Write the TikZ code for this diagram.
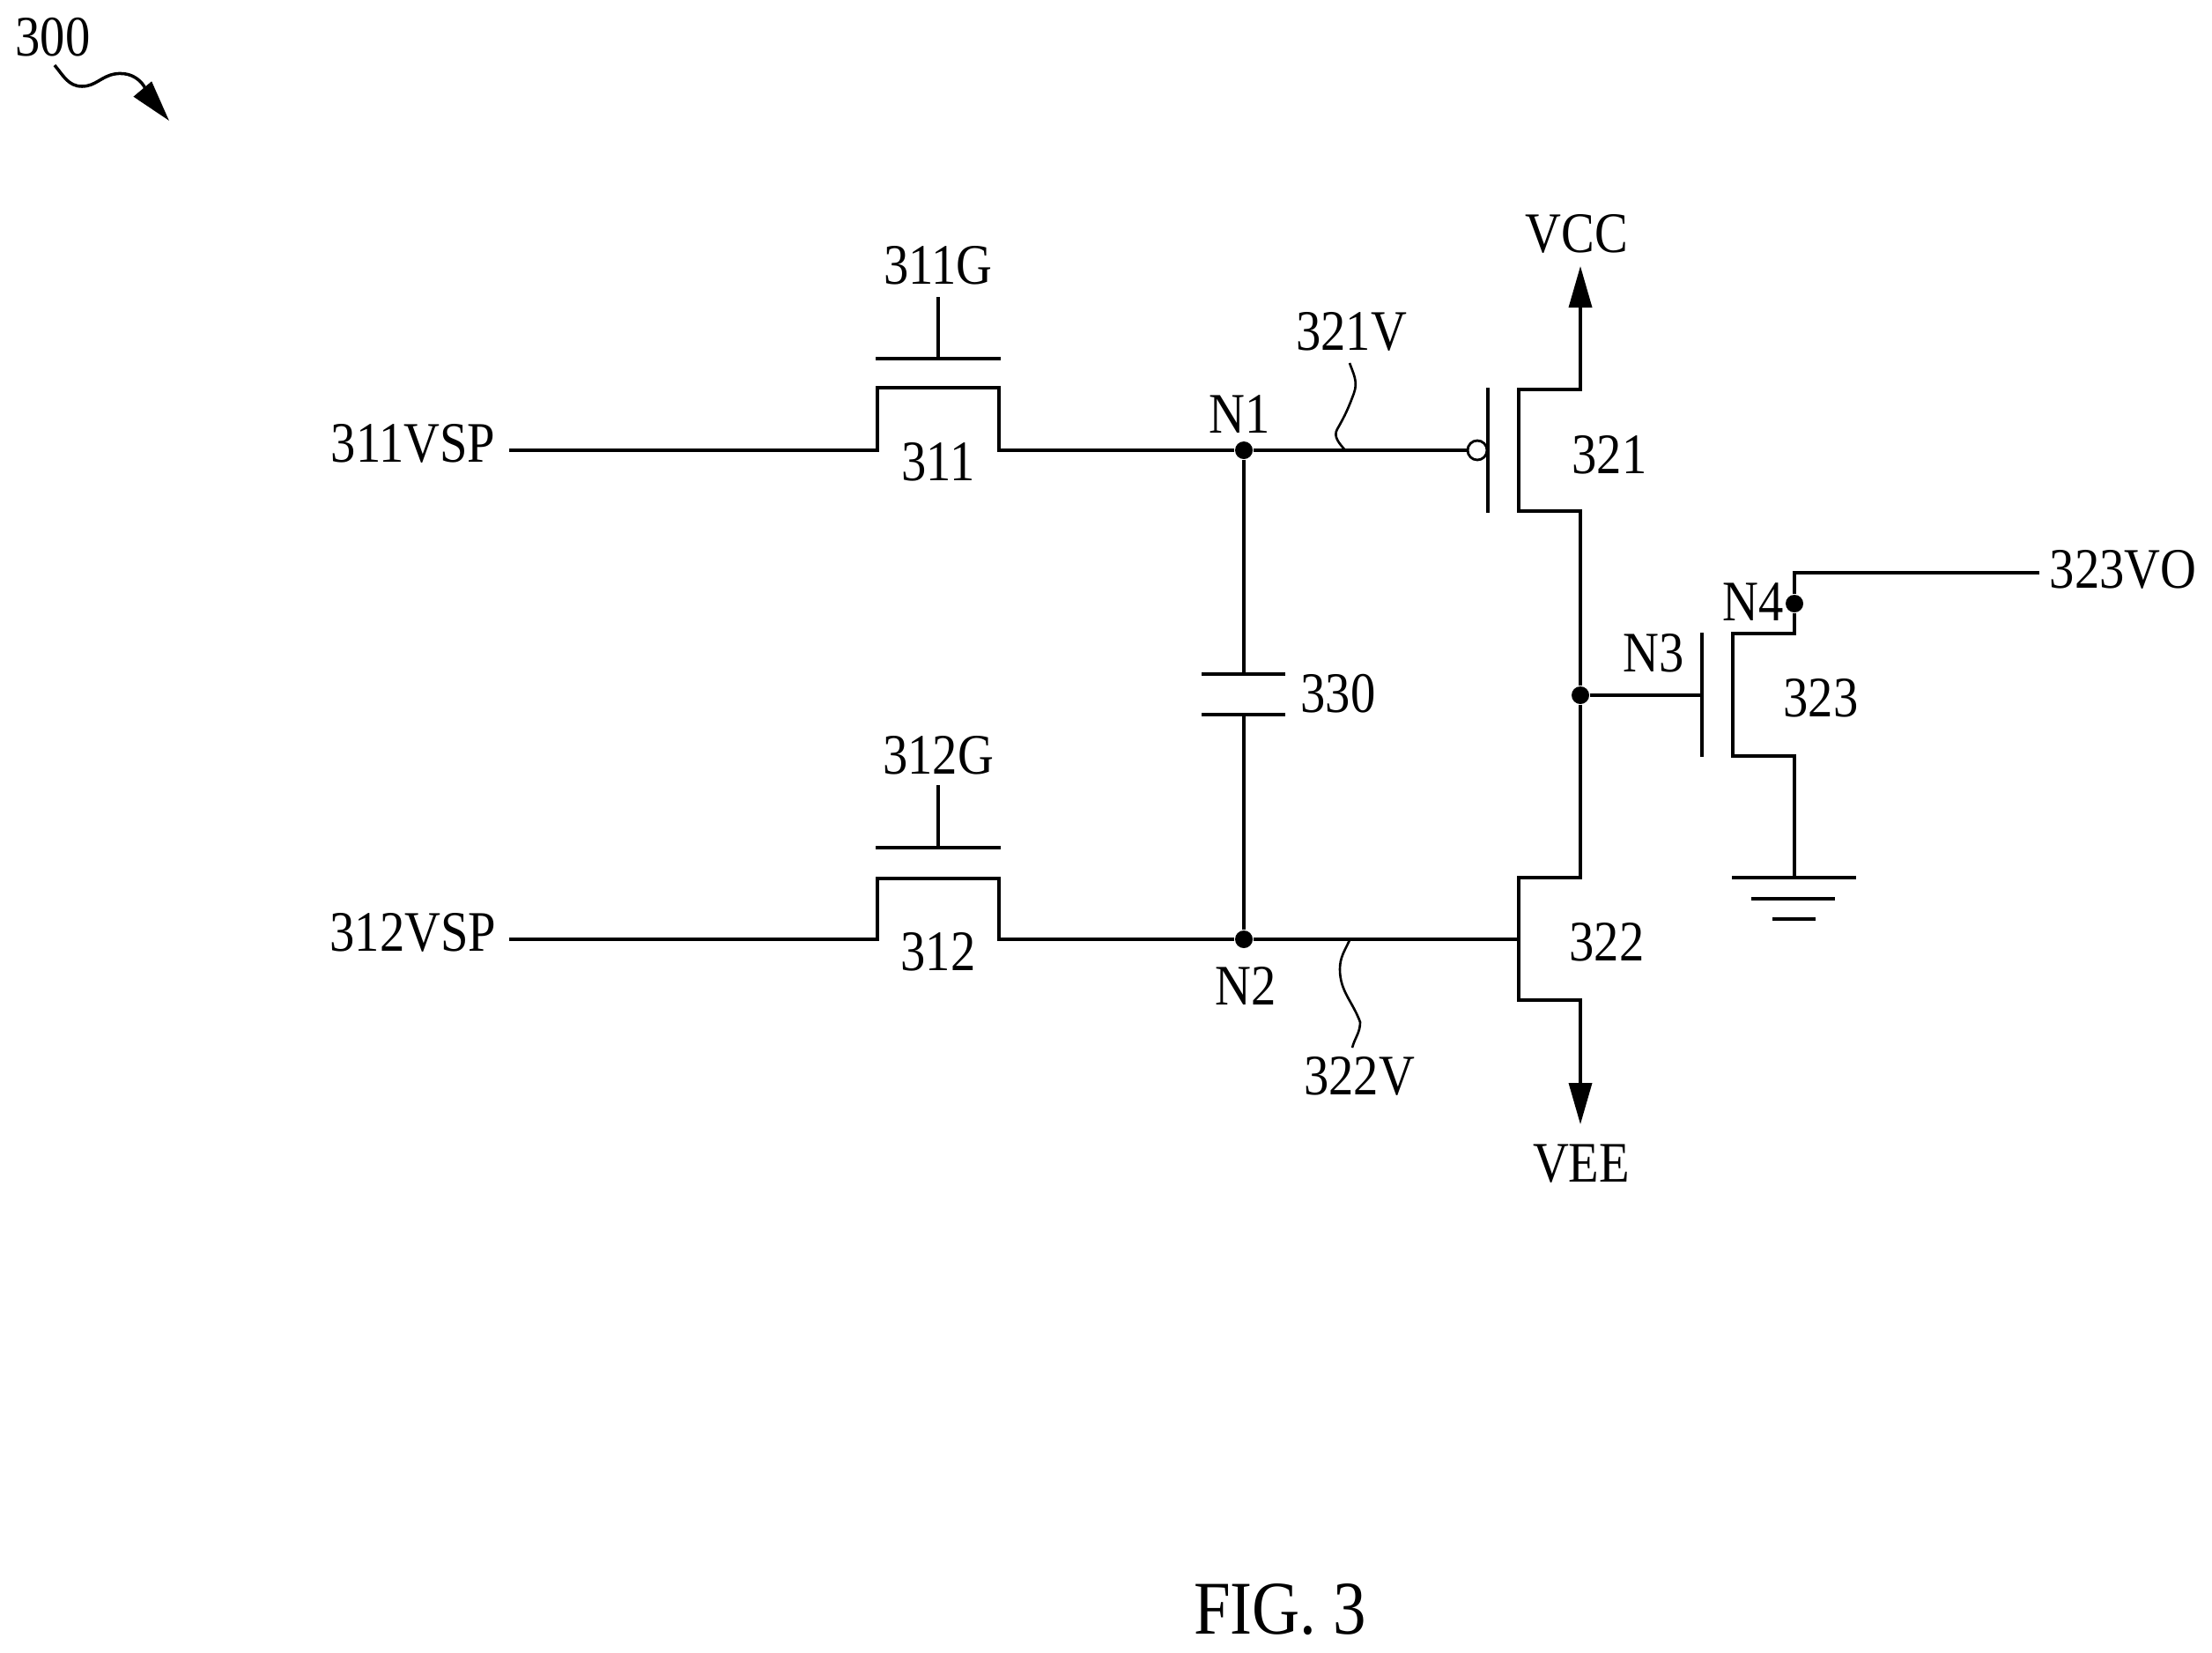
\documentclass[tikz,border=0pt]{standalone}
\usepackage{fontspec}
\setmainfont[FakeStretch=0.87]{Liberation Serif}
\usetikzlibrary{arrows.meta}
\begin{document}
\begin{tikzpicture}
          [font=\fontsize{18.5}{20}\selectfont,
          lbl/.style={inner sep=0pt,text=black},
          figlbl/.style={inner sep=0pt,text=black,font=\fontsize{24.5}{28}\selectfont},
          dot/.style={shape=circle,fill=black,inner sep=0pt,minimum size=0.2cm},
          bubble/.style={shape=circle,draw=black,fill=white,inner sep=0pt,minimum size=0.22cm,line width=0.8pt},
          wire/.style={line width=1pt},
          arc/.style={-{Triangle[length=0.47cm,width=0.26cm]},line width=1pt},
          lead/.style={line width=0.75pt}]

          \useasboundingbox (0,0) rectangle (25.11,-18.75);

          % labels
          \node (l300) [lbl] at (0.60,-0.42) {300};
          \node (l311G) [lbl] at (10.65,-3.01) {311G};
          \node (l312G) [lbl] at (10.65,-8.57) {312G};
          \node (l311VSP) [lbl] at (4.69,-5.03) {311VSP};
          \node (l312VSP) [lbl] at (4.69,-10.58) {312VSP};
          \node (l311) [lbl] at (10.65,-5.24) {311};
          \node (l312) [lbl] at (10.65,-10.80) {312};
          \node (lN1) [lbl] at (14.07,-4.70) {N1};
          \node (lN2) [lbl] at (14.14,-11.19) {N2};
          \node (l321V) [lbl] at (15.34,-3.76) {321V};
          \node (l322V) [lbl] at (15.43,-12.21) {322V};
          \node (l330) [lbl] at (15.19,-7.87) {330};
          \node (lVCC) [lbl] at (17.90,-2.65) {VCC};
          \node (lVEE) [lbl] at (17.95,-13.21) {VEE};
          \node (l321) [lbl] at (18.27,-5.16) {321};
          \node (l322) [lbl] at (18.24,-10.69) {322};
          \node (l323) [lbl] at (20.67,-7.92) {323};
          \node (lN3) [lbl] at (18.77,-7.41) {N3};
          \node (lN4) [lbl] at (19.90,-6.83) {N4};
          \node (l323VO) [lbl] at (24.10,-6.46) {323VO};
          \node (lfig) [figlbl] at (14.53,-18.27) {FIG. 3};

          % nodes
          \node (N1) [dot] at (14.12,-5.11) {};
          \node (N2) [dot] at (14.12,-10.66) {};
          \node (N3) [dot] at (17.94,-7.89) {};
          \node (N4) [dot] at (20.37,-6.85) {};
          \node (b321) [bubble] at (16.77,-5.11) {};

          \coordinate (in311) at (5.78,-5.11);
          \coordinate (in312) at (5.78,-10.66);
          \coordinate (a311) at (9.96,-5.11);
          \coordinate (b311) at (11.34,-5.11);
          \coordinate (a312) at (9.96,-10.66);
          \coordinate (b312) at (11.34,-10.66);
          \coordinate (g311) at (10.65,-4.07);
          \coordinate (g312) at (10.65,-9.62);
          \coordinate (s311) at (10.65,-3.37);
          \coordinate (s312) at (10.65,-8.91);
          \coordinate (c1) at (14.12,-7.65);
          \coordinate (c2) at (14.12,-8.11);
          \coordinate (vcc) at (17.94,-3.02);
          \coordinate (vee) at (17.94,-12.76);
          \coordinate (out) at (23.15,-6.50);
          \coordinate (g323) at (19.32,-7.89);
          \coordinate (gnd) at (20.37,-9.96);

          % pass gates
          \draw [wire] (in311) -- (a311) -- ++(0,0.71) -| (b311) -- (N1);
          \draw [wire] (in312) -- (a312) -- ++(0,0.69) -| (b312) -- (N2);
          \draw [wire] (9.94,-4.07) -- (11.36,-4.07);
          \draw [wire] (9.94,-9.62) -- (11.36,-9.62);
          \draw [wire] (s311) -- (g311);
          \draw [wire] (s312) -- (g312);

          % capacitor
          \draw [wire] (N1) -- (c1);
          \draw [wire] (N2) -- (c2);
          \draw [wire] (13.64,-7.65) -- (14.59,-7.65);
          \draw [wire] (13.64,-8.11) -- (14.59,-8.11);

          % transistors
          \draw [wire] (N1) -- (b321);
          \draw [wire] (16.89,-4.40) -- (16.89,-5.82);
          \draw [arc] (N3) |- (17.24,-5.80) -- (17.24,-4.42) -| (vcc);
          \draw [arc] (N3) |- (17.24,-9.96) -- (17.24,-11.35) -| (vee);
          \draw [wire] (N2) -- (17.24,-10.66);
          \draw [wire] (N3) -- (g323);
          \draw [wire] (g323 |- 0,-7.18) -- (g323 |- 0,-8.59);
          \draw [wire] (out) -| (N4);
          \draw [wire] (N4) |- (19.67,-7.19) -- (19.67,-8.58) -| (gnd);

          % ground
          \draw [wire] (19.66,-9.96) -- (21.07,-9.96);
          \draw [wire] (19.88,-10.20) -- (20.83,-10.20);
          \draw [wire] (20.12,-10.43) -- (20.61,-10.43);

          % leads
          \coordinate (w321) at (15.32,-4.12);
          \coordinate (w322) at (15.35,-11.89);
          \coordinate (j321) at (15.27,-5.11);
          \coordinate (j322) at (15.32,-10.67);
          \draw [lead] (w321) to [out=-70,in=70] (15.37,-4.46) to [out=-110,in=60] (15.18,-4.87) to [out=-120,in=130] (j321);
          \draw [lead] (j322) to [out=-115,in=90] (15.21,-11.00) to [out=-90,in=110] (15.44,-11.60) to [out=-90,in=75] (w322);
          \coordinate (a300) at (0.62,-0.74);
          \coordinate (t300) at (1.92,-1.37);
          \draw [-{Triangle[length=0.47cm,width=0.26cm]},line width=1pt] (a300) to [out=-50,in=180] (0.93,-0.98) to [out=0,in=190] (1.30,-0.84) to [out=10,in=130] (t300);
\end{tikzpicture}
\end{document}
